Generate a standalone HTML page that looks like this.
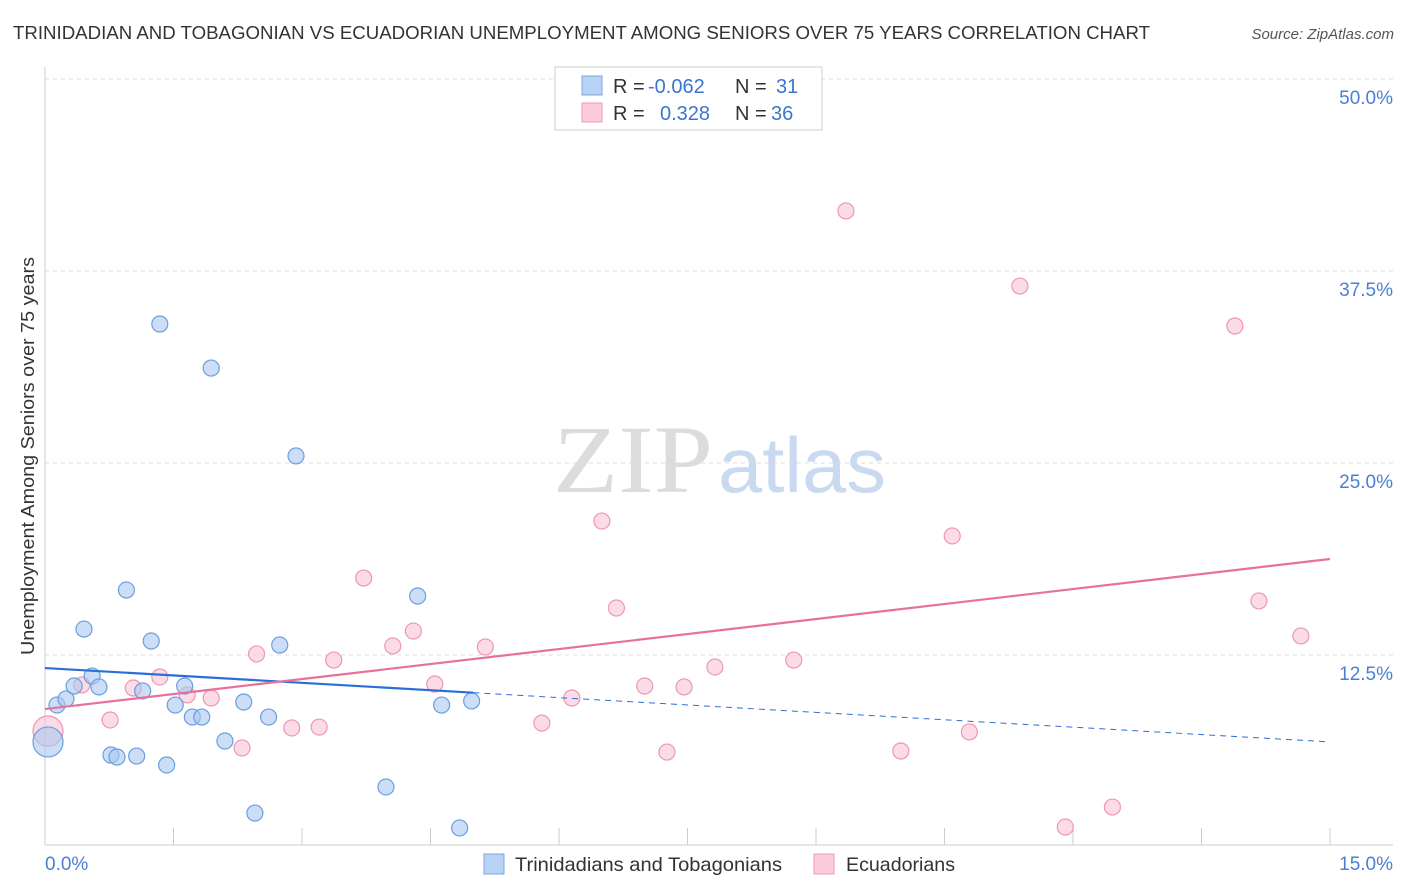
<!DOCTYPE html>
<html><head><meta charset="utf-8"><style>
body{margin:0;background:#fff;font-family:"Liberation Sans",sans-serif;}
svg{display:block}
</style></head><body>
<svg id="chart" width="1406" height="892" xmlns="http://www.w3.org/2000/svg">
<text x="13" y="39" font-size="18" fill="#333" textLength="1137" lengthAdjust="spacingAndGlyphs">TRINIDADIAN AND TOBAGONIAN VS ECUADORIAN UNEMPLOYMENT AMONG SENIORS OVER 75 YEARS CORRELATION CHART</text>
<text x="1394" y="39" font-size="15" fill="#555" font-style="italic" text-anchor="end">Source: ZipAtlas.com</text>
<g>
<text x="553" y="492" font-size="96" font-family="Liberation Serif,serif" fill="#dcdcdc" textLength="160" lengthAdjust="spacingAndGlyphs">ZIP</text>
<text x="718" y="492" font-size="78" fill="#c9d9f0" textLength="168" lengthAdjust="spacingAndGlyphs">atlas</text>
</g>
<g id="grid"></g>
<g id="axes"></g>
<g id="marks"></g>
<text transform="translate(34,456) rotate(-90)" font-size="18" fill="#333" text-anchor="middle" textLength="398" lengthAdjust="spacingAndGlyphs">Unemployment Among Seniors over 75 years</text>
<g>
<rect x="555" y="67" width="267" height="63" fill="#fff" stroke="#ccc"/>
<rect x="582" y="76" width="20" height="19" fill="#b8d2f4" stroke="#7aa6e0"/>
<rect x="582" y="103" width="20" height="19" fill="#fbcbd9" stroke="#f09ab5"/>
<text x="613" y="93" font-size="20" fill="#333">R = <tspan fill="#3b75d0" x="648">-0.062</tspan></text>
<text x="735" y="93" font-size="20" fill="#333">N = <tspan fill="#3b75d0" x="776">31</tspan></text>
<text x="613" y="120" font-size="20" fill="#333">R = <tspan fill="#3b75d0" x="660">0.328</tspan></text>
<text x="735" y="120" font-size="20" fill="#333">N = <tspan fill="#3b75d0" x="771">36</tspan></text>
</g>
<g>
<rect x="484" y="854" width="20" height="20" fill="#b8d2f4" stroke="#7aa6e0"/>
<text x="515" y="871" font-size="19.5" fill="#333" textLength="267" lengthAdjust="spacingAndGlyphs">Trinidadians and Tobagonians</text>
<rect x="814" y="854" width="20" height="20" fill="#fbcbd9" stroke="#f09ab5"/>
<text x="846" y="871" font-size="19.5" fill="#333" textLength="109" lengthAdjust="spacingAndGlyphs">Ecuadorians</text>
</g>
</svg>
<script>
const yTicks=[12.5,25,37.5,50];
const yTickLabels=["12.5%","25.0%","37.5%","50.0%"];
const xTickCount=10;
const blueX=[0.035,0.14,0.245,0.34,0.455,0.55,0.63,0.77,0.84,0.95,1.07,1.14,1.24,1.34,1.42,1.52,1.63,1.72,1.83,1.94,2.10,2.32,2.45,2.61,2.74,2.93,3.98,4.35,4.63,4.84,4.98];
const blueY=[6.84,9.24,9.64,10.48,14.19,11.13,10.42,5.99,5.86,16.73,5.92,10.16,13.41,34.05,5.34,9.24,10.48,8.46,8.46,31.18,6.90,9.44,2.21,8.46,13.15,25.46,3.91,16.34,9.24,1.24,9.51];
const pinkX=[0.035,0.43,0.76,1.03,1.34,1.66,1.94,2.30,2.47,2.88,3.20,3.37,3.72,4.06,4.30,4.55,5.14,5.80,6.15,6.50,6.67,7.00,7.26,7.46,7.82,8.74,9.35,9.99,10.59,10.79,11.38,11.91,12.46,13.89,14.17,14.66];
const pinkY=[7.55,10.55,8.27,10.35,11.07,9.90,9.70,6.45,12.57,7.75,7.81,12.17,17.51,13.09,14.06,10.61,13.02,8.07,9.70,21.22,15.56,10.48,6.18,10.42,11.72,12.17,41.41,6.25,20.25,7.49,36.52,1.30,2.60,33.92,16.02,13.74];
const blueTrend=[11.65,6.84];
const blueSolidEnd=5.0;
const pinkTrend=[8.98,18.75];

const NS="http://www.w3.org/2000/svg";
const X=v=>45+v/15*1285, Y=v=>847-v/12.5*192;
function mk(tag,attrs,parent){const e=document.createElementNS(NS,tag);for(const k in attrs)e.setAttribute(k,attrs[k]);parent.appendChild(e);return e;}
const grid=document.getElementById('grid'),axes=document.getElementById('axes'),marks=document.getElementById('marks');
yTicks.forEach((t,i)=>{
 const l=mk('line',{x1:45,x2:1393,y1:Y(t),y2:Y(t),stroke:'#ddd','stroke-dasharray':'4,4'},grid);
 
 
 const tx=mk('text',{x:1393,y:Y(t)+25,'font-size':19,fill:'#4a7fd4','text-anchor':'end'},axes);
 tx.textContent=yTickLabels[i];
 
 
});
const ya=mk('line',{x1:45,x2:45,y1:67,y2:845,stroke:'#ccc'},axes);


const xa=mk('line',{x1:45,x2:1393,y1:845,y2:845,stroke:'#ccc'},axes);


for(let i=0;i<=xTickCount;i++){const x=X(i*15/xTickCount);
 const t=mk('line',{x1:x,x2:x,y1:828,y2:845,stroke:'#ccc'},axes);
 
 }
const xl0=mk('text',{x:45,y:870,'font-size':19,fill:'#4a7fd4'},axes);xl0.textContent='0.0%';


const xl1=mk('text',{x:1393,y:870,'font-size':19,fill:'#4a7fd4','text-anchor':'end'},axes);xl1.textContent='15.0%';


function pts(xs,ys,fill,stroke,name){xs.forEach((x,i)=>{
 const c=mk('circle',{cx:X(x),cy:Y(ys[i]),r:i===0?15:8,fill:fill,'fill-opacity':0.6,stroke:stroke,'stroke-width':1.2},marks);
 
 });}
pts(pinkX,pinkY,'#f9c3d3','#ee97b2','ecuadorian-point');
pts(blueX,blueY,'#a9c8f0','#6a9ee0','trinidadian-point');
const bAt=x=>blueTrend[0]+(blueTrend[1]-blueTrend[0])*x/15;
const b1=mk('line',{x1:X(0),y1:Y(bAt(0)),x2:X(blueSolidEnd),y2:Y(bAt(blueSolidEnd)),stroke:'#2a6fd6','stroke-width':2.2},marks);


const b2=mk('line',{x1:X(blueSolidEnd),y1:Y(bAt(blueSolidEnd)),x2:X(15),y2:Y(bAt(15)),stroke:'#2a6fd6','stroke-width':1,'stroke-dasharray':'6,5'},marks);


const p=mk('line',{x1:X(0),y1:Y(pinkTrend[0]),x2:X(15),y2:Y(pinkTrend[1]),stroke:'#e8719b','stroke-width':2.2},marks);


</script>
</body></html>
